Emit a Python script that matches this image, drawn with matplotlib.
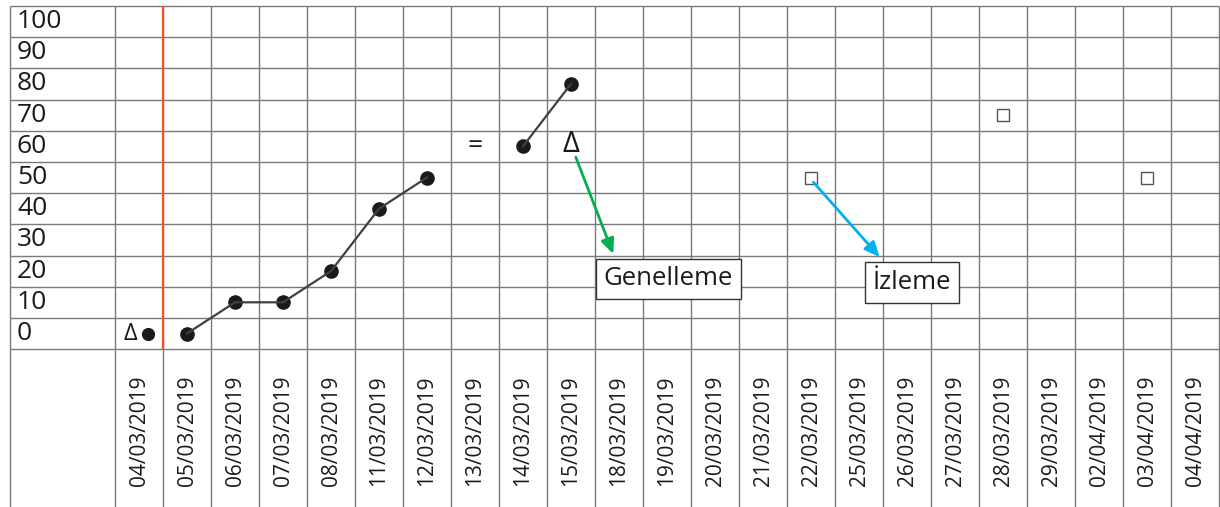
import matplotlib
matplotlib.use("Agg")
import matplotlib.pyplot as plt
import matplotlib.transforms as mtransforms
import numpy as np

plt.rcParams['font.family'] = ['Open Sans', 'DejaVu Sans']

# ---- data ----
dates = ["04/03/2019", "05/03/2019", "06/03/2019", "07/03/2019", "08/03/2019",
         "11/03/2019", "12/03/2019", "13/03/2019", "14/03/2019", "15/03/2019",
         "18/03/2019", "19/03/2019", "20/03/2019", "21/03/2019", "22/03/2019",
         "25/03/2019", "26/03/2019", "27/03/2019", "28/03/2019", "29/03/2019",
         "02/04/2019", "03/04/2019", "04/04/2019"]
y_ticks = [0, 10, 20, 30, 40, 50, 60, 70, 80, 90, 100]

# baseline (single point with triangle)
base_date = "04/03/2019"
base_value = 0

# intervention series 1
seg1_dates = ["05/03/2019", "06/03/2019", "07/03/2019", "08/03/2019", "11/03/2019", "12/03/2019"]
seg1_values = [0, 10, 10, 20, 40, 50]

# equal sign marker
eq_date = "13/03/2019"
eq_value = 60

# intervention series 2
seg2_dates = ["14/03/2019", "15/03/2019"]
seg2_values = [60, 80]

# generalisation triangle
gen_date = "15/03/2019"
gen_value = 60

# monitoring squares
mon_dates = ["22/03/2019", "28/03/2019", "03/04/2019"]
mon_values = [50, 70, 50]

phase_line_after = "04/03/2019"

# ---- layout ----
W, H = 1220, 507
fig = plt.figure(figsize=(W / 100, H / 100), dpi=100)
ax = fig.add_axes([0, 0, 1, 1])
ax.axis('off')

col_w = 48.0
x0_pix = 115.0
row_h = 3.12          # pixels per unit
y0_pix = 333.5        # pixel row of value 0

ax.set_xlim(-x0_pix / col_w, (W - x0_pix) / col_w)
ax.set_ylim((y0_pix - H) / row_h, y0_pix / row_h)

idx = {d: i for i, d in enumerate(dates)}
def xc(d):
    return idx[d] + 0.5

n = len(dates)
left_border = (10 - x0_pix) / col_w
ybot = (y0_pix - H) / row_h
ytop = 105

grid_c = '#7a7a7a'
# horizontal grid lines
for v in np.arange(-5, 106, 10):
    ax.plot([left_border, n], [v, v], color=grid_c, lw=1.0, zorder=1,
            solid_capstyle='butt')
# vertical grid lines
for xv in [left_border] + list(range(n + 1)):
    ax.plot([xv, xv], [ybot, ytop], color=grid_c, lw=1.0, zorder=1,
            solid_capstyle='butt')

# phase change line
px = idx[phase_line_after] + 1
ax.plot([px, px], [-5, ytop], color='#f0521e', lw=1.6, zorder=2,
        solid_capstyle='butt')

# y labels
for v in y_ticks:
    ax.text(left_border + 7 / col_w, v, str(v), ha='left', va='center',
            fontsize=19, color='#1a1a1a', zorder=3)

# date labels
for d in dates:
    ax.text(xc(d), (y0_pix - 486) / row_h, d, rotation=90, ha='center',
            va='bottom', fontsize=15, color='#1a1a1a', zorder=3)

# baseline: triangle and dot
tr_left = mtransforms.offset_copy(ax.transData, fig=fig, x=-9, y=0, units='dots')
tr_right = mtransforms.offset_copy(ax.transData, fig=fig, x=9, y=0, units='dots')
ax.text(xc(base_date), base_value, "Δ", ha='center', va='center',
        fontsize=17, color='#1a1a1a', zorder=4, transform=tr_left)
ax.plot([xc(base_date)], [base_value], 'o', color='#1a1a1a', ms=8.5,
        zorder=4, transform=tr_right)

# series 1 and 2
for ds, vs in [(seg1_dates, seg1_values), (seg2_dates, seg2_values)]:
    xs = [xc(d) for d in ds]
    ax.plot(xs, vs, 'o', color='#1a1a1a', ms=9.5, zorder=4)
    ax.plot(xs, vs, '-', color='#404040', lw=1.6, zorder=5)

# equal sign
ax.text(xc(eq_date), eq_value, "=", ha='center', va='center',
        fontsize=19, color='#1a1a1a', zorder=4)

# generalisation triangle
ax.text(xc(gen_date), gen_value + 0.5, "Δ", ha='center', va='center',
        fontsize=21, color='#1a1a1a', zorder=4)

# monitoring squares
ax.plot([xc(d) for d in mon_dates], mon_values, 's', ms=9, mfc='white',
        mec='#555555', mew=1.0, ls='none', zorder=4)

# arrows and boxes
ax.annotate("", xy=(xc(gen_date) + 0.88, 25.5), xytext=(xc(gen_date) + 0.1, 56.5),
            arrowprops=dict(arrowstyle='-|>,head_length=0.9,head_width=0.4',
                            color='#00b050', lw=2.0, shrinkA=0, shrinkB=0), zorder=6)
ax.text(xc(gen_date) + 0.68, 17.5, "Genelleme", ha='left', va='center',
        fontsize=18.5, color='#1a1a1a', zorder=7,
        bbox=dict(boxstyle='square,pad=0.3', fc='white', ec='#333333', lw=1.0))

ax.annotate("", xy=(xc(mon_dates[0]) + 1.43, 24.5), xytext=(xc(mon_dates[0]) + 0.05, 48.5),
            arrowprops=dict(arrowstyle='-|>,head_length=0.9,head_width=0.4',
                            color='#00b0f0', lw=2.0, shrinkA=0, shrinkB=0), zorder=6)
ax.text(xc(mon_dates[0]) + 1.28, 16.3, "İzleme", ha='left', va='center',
        fontsize=18.5, color='#1a1a1a', zorder=7,
        bbox=dict(boxstyle='square,pad=0.3', fc='white', ec='#333333', lw=1.0))

fig.savefig("out.png", dpi=100)
